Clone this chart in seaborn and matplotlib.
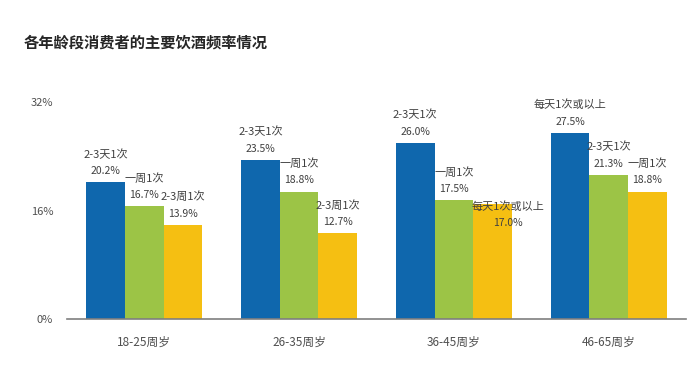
import pandas as pd
import seaborn as sns
import matplotlib.pyplot as plt

# datos
grupos = ['18-25周岁', '26-35周岁', '36-45周岁', '46-65周岁']
valores_1 = [20.2, 23.5, 26.0, 27.5]
valores_2 = [16.7, 18.8, 17.5, 21.3]
valores_3 = [13.9, 12.7, 17.0, 18.8]
etiquetas_1 = ['2-3天1次', '2-3天1次', '2-3天1次', '每天1次或以上']
etiquetas_2 = ['一周1次', '一周1次', '一周1次', '2-3天1次']
etiquetas_3 = ['2-3周1次', '2-3周1次', '每天1次或以上', '一周1次']
colores = ['#0f67ad', '#9cc446', '#f5bf12']

filas = []
for i, g in enumerate(grupos):
    for r, (vals, etqs) in enumerate([(valores_1, etiquetas_1), (valores_2, etiquetas_2), (valores_3, etiquetas_3)]):
        filas.append({'grupo': g, 'orden': r, 'valor': vals[i], 'etiqueta': etqs[i]})
datos = pd.DataFrame(filas)

sns.set_theme(style='white')
plt.rcParams['font.family'] = ['Noto Sans CJK SC', 'DejaVu Sans']

fig = plt.figure(figsize=(7, 3.66), dpi=100)
ax = fig.add_axes([0.0957, 0.1284, 0.8843, 0.5926])

sns.barplot(data=datos, x='grupo', y='valor', hue='orden', palette=colores,
            width=0.75, gap=0, legend=False, ax=ax, saturation=1,
            linewidth=0)

gris = '#404040'
for r, cont in enumerate(ax.containers):
    sub = datos[datos['orden'] == r].reset_index(drop=True)
    for i, barra in enumerate(cont):
        x = barra.get_x() + barra.get_width() / 2
        y = barra.get_height()
        dx, dy_pct, dy_cat = 0, 8, 20
        # la etiqueta que se monta sobre la barra amarilla del grupo 36-45
        if r == 2 and i == 2:
            dx, dy_pct, dy_cat = 11, -13.5, -2
        ax.annotate(f'{sub.loc[i, "valor"]:.1f}%', (x, y), xytext=(dx, dy_pct),
                    textcoords='offset points', ha='center', va='center',
                    fontsize=7.5, color=gris)
        ax.annotate(sub.loc[i, 'etiqueta'], (x, y), xytext=(dx, dy_cat),
                    textcoords='offset points', ha='center', va='center',
                    fontsize=8, color=gris)

ax.set_ylim(0, 32)
ax.set_xlim(-0.5, 3.5)
ax.set_yticks([0, 16, 32])
ax.set_yticklabels(['0%', '16%', '32%'])
ax.set_xlabel('')
ax.set_ylabel('')
ax.tick_params(axis='both', length=0, labelsize=8, colors='#505050')
ax.tick_params(axis='x', pad=12, labelsize=8.5)
ax.tick_params(axis='y', pad=10)
for lado in ['top', 'right', 'left']:
    ax.spines[lado].set_visible(False)
ax.spines['bottom'].set_color('#7f7f7f')
ax.spines['bottom'].set_linewidth(1.2)

fig.text(0.034, 0.8825, '各年龄段消费者的主要饮酒频率情况', fontsize=11,
         fontweight='bold', color='#262626', va='center', ha='left')

fig.savefig('out.png', dpi=100)
